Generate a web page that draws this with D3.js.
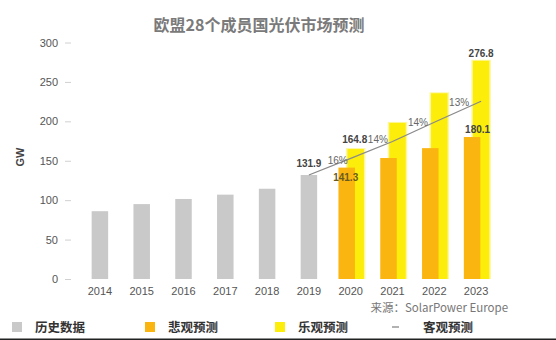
<!DOCTYPE html>
<html><head><meta charset="utf-8">
<script src="https://cdn.jsdelivr.net/npm/d3@7"></script>
<style>body{margin:0;background:#fff}svg{display:block}</style>
</head><body>
<svg id="c" width="556" height="340"></svg>
<script>
const title = "欧盟28个成员国光伏市场预测";
const years = ["2014","2015","2016","2017","2018","2019","2020","2021","2022","2023"];
const histYears = ["2014","2015","2016","2017","2018","2019"];
const histValues = [86, 95, 101.5, 107, 114.5, 131.9];
const fcYears = ["2020","2021","2022","2023"];
const lowValues = [141.3, 153.5, 166, 180.1];
const highValues = [164.8, 198, 235.6, 276.8];
const midYears = ["2019","2020","2021","2022","2023"];
const midValues = [131.9, 153.0, 174.4, 198.8, 225.5];
const growthLabels = ["16%","14%","14%","13%"];
const yTicks = [0,50,100,150,200,250,300];
const legendLabels = ["历史数据","悲观预测","乐观预测","客观预测"];
const sourceText = "来源：SolarPower Europe";

const svg = d3.select("#c");
const font = "'Noto Sans CJK SC','Noto Sans',sans-serif";
const x = d3.scaleBand().domain(years).range([79, 497]).padding(0);
const cx = d => x(d) + x.bandwidth()/2;
const y = d3.scaleLinear().domain([0,300]).range([279, 42.5]);
const bw = 16.5;
const cGray = "#c9c9c9", cOrange = "#fbb510", cYellow = "#fcee0a", cText = "#444";

// title
svg.append("text").attr("x",259).attr("y",31).attr("text-anchor","middle")
  .attr("font-family",font).attr("font-weight","bold").attr("font-size",16)
  .attr("fill","#7a7a7a").text(title);

// y axis
const yAxis = d3.axisLeft(y).tickValues(yTicks).tickSize(6).tickPadding(7);
const ga = svg.append("g").attr("transform","translate(71,0)").call(yAxis);
ga.select(".domain").remove();
ga.selectAll(".tick line").attr("stroke","#d0d0d0");
ga.selectAll(".tick text").attr("fill","#555").attr("font-size",11).attr("font-family","'Liberation Sans',Arial,sans-serif");

svg.append("text").attr("transform","translate(24,157) rotate(-90)").attr("text-anchor","middle")
  .attr("font-family","'Liberation Sans',Arial,sans-serif").attr("font-size",11).attr("font-weight","bold")
  .attr("fill","#444").text("GW");

// x axis
const xAxis = d3.axisBottom(x).tickSize(0).tickPadding(8);
const gx = svg.append("g").attr("transform","translate(0,285)").call(xAxis);
gx.select(".domain").remove();
gx.selectAll(".tick text").attr("fill","#555").attr("font-size",11).attr("font-family","'Liberation Sans',Arial,sans-serif")
  .attr("dy","0.2em");

// historical bars
svg.append("g").selectAll("rect").data(histYears).join("rect")
  .attr("x",(d)=>cx(d)-bw/2).attr("width",bw)
  .attr("y",(d,i)=>y(histValues[i])).attr("height",(d,i)=>y(0)-y(histValues[i]))
  .attr("fill",cGray);

// optimistic bars (with soft glow)
const gy = svg.append("g");
gy.selectAll("rect.glow").data(fcYears).join("rect").attr("class","glow")
  .attr("x",d=>cx(d)+5-bw/2-1.5).attr("width",bw+3)
  .attr("y",(d,i)=>y(highValues[i])-1).attr("height",(d,i)=>y(0)-y(highValues[i])+1)
  .attr("fill","#fdf7a0");
gy.selectAll("rect.main").data(fcYears).join("rect").attr("class","main")
  .attr("x",d=>cx(d)+5-bw/2).attr("width",bw)
  .attr("y",(d,i)=>y(highValues[i])).attr("height",(d,i)=>y(0)-y(highValues[i]))
  .attr("fill",cYellow);

// pessimistic bars
svg.append("g").selectAll("rect").data(fcYears).join("rect")
  .attr("x",d=>cx(d)-4-bw/2).attr("width",bw)
  .attr("y",(d,i)=>y(lowValues[i])).attr("height",(d,i)=>y(0)-y(lowValues[i]))
  .attr("fill",cOrange);

// realistic line
const lx = (i)=>cx(midYears[i]) + (i===midYears.length-1?5:0);
const line = d3.line().x((d,i)=>lx(i)).y(d=>y(d));
svg.append("path").datum(midValues).attr("d",line).attr("fill","none")
  .attr("stroke","#8a8a8a").attr("stroke-width",1.3);

// growth labels (fraction along segment, vertical offset from line)
const gPos = [[0.69,0.5],[0.65,-4.5],[0.61,-3.8],[0.53,-5]];
svg.append("g").selectAll("text").data(growthLabels).join("text")
  .attr("x",(d,i)=>lx(i)+(lx(i+1)-lx(i))*gPos[i][0])
  .attr("y",(d,i)=>{const f=gPos[i][0];return y(midValues[i]+(midValues[i+1]-midValues[i])*f)+gPos[i][1];})
  .attr("text-anchor","middle").attr("font-size",10).attr("font-family","'Liberation Sans',Arial,sans-serif")
  .attr("fill","#666").text(d=>d);

// value labels
const vlab = svg.append("g").attr("font-family","'Liberation Sans',Arial,sans-serif")
  .attr("font-size",10).attr("font-weight","bold").attr("text-anchor","middle");
vlab.append("text").attr("x",cx("2019")).attr("y",y(histValues[5])-8).attr("fill",cText).text(histValues[5].toFixed(1));
vlab.append("text").attr("x",cx("2020")+4).attr("y",y(highValues[0])-6).attr("fill",cText).text(highValues[0].toFixed(1));
vlab.append("text").attr("x",cx("2023")+5).attr("y",y(highValues[3])-4).attr("fill",cText).text(highValues[3].toFixed(1));
vlab.append("text").attr("x",cx("2023")+1.5).attr("y",y(lowValues[3])-4.5).attr("fill",cText).text(lowValues[3].toFixed(1));
vlab.append("text").attr("x",cx("2020")-5).attr("y",y(lowValues[0])+13).attr("fill","#6b5a1e").text(lowValues[0].toFixed(1));

// source
svg.append("text").attr("x",508).attr("y",312).attr("text-anchor","end")
  .attr("font-family",font).attr("font-size",11.5).attr("fill","#777").text(sourceText);

// legend
const legX = [12,145,275,392];
const legColors = [cGray,cOrange,cYellow,null];
const lg = svg.append("g");
legendLabels.forEach((t,i)=>{
  if (legColors[i]) {
    lg.append("rect").attr("x",legX[i]).attr("y",322).attr("width",10).attr("height",10).attr("fill",legColors[i]);
  } else {
    lg.append("line").attr("x1",legX[i]).attr("x2",legX[i]+7).attr("y1",327).attr("y2",327).attr("stroke","#888").attr("stroke-width",1.3);
  }
  lg.append("text").attr("x",legX[i] + (i===3?31:23)).attr("y",332)
    .attr("font-family",font).attr("font-weight","bold").attr("font-size",12.5)
    .attr("fill","#333").text(t);
});

// bottom border
svg.append("rect").attr("x",0).attr("y",338.5).attr("width",556).attr("height",1.5).attr("fill","#222");
</script>
</body></html>
